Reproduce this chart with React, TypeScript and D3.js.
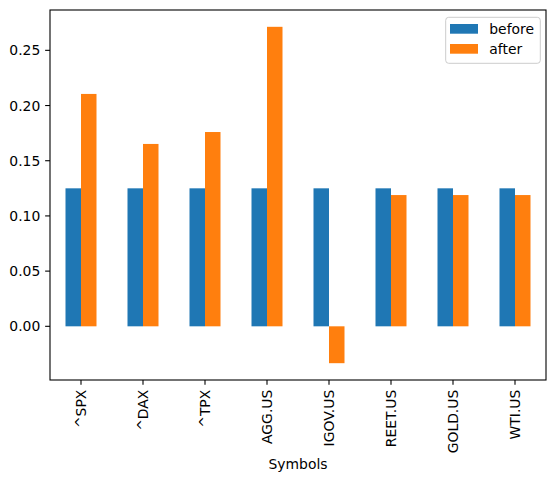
import React from "react";
import * as d3 from "d3";

const symbols = ["^SPX", "^DAX", "^TPX", "AGG.US", "IGOV.US", "REET.US", "GOLD.US", "WTI.US"];
const before = [0.125, 0.125, 0.125, 0.125, 0.125, 0.125, 0.125, 0.125];
const after = [0.2105, 0.1652, 0.176, 0.2713, -0.0334, 0.1189, 0.1189, 0.1189];
const yTicks = [0.0, 0.05, 0.1, 0.15, 0.2, 0.25];
const seriesNames = ["before", "after"];
const colors = ["#1f77b4", "#ff7f0e"];

export default function App() {
  const W = 556, H = 482;
  const left = 50, right = 546, top = 10, bottom = 380;
  const x = d3.scaleLinear().domain([-0.5, symbols.length - 0.5]).range([left, right]);
  const all = [...before, ...after, 0];
  const mn = d3.min(all)!, mx = d3.max(all)!;
  const pad = (mx - mn) * 0.05;
  const y = d3.scaleLinear().domain([mn - pad, mx + pad]).range([bottom, top]);
  const bw = 0.25;
  const font = "DejaVu Sans, sans-serif";
  const fs = 13.9;
  const tickLen = 4.86;
  const series = [before, after];
  const textColor = "#000";

  return (
    <svg width={W} height={H} style={{ position: "absolute", left: 0, top: 0, background: "#fff" }}>
      <rect x={0} y={0} width={W} height={H} fill="#fff" />
      {series.map((vals, s) =>
        vals.map((v, i) => {
          const x0 = x(i - bw + s * bw);
          const x1 = x(i + s * bw);
          const y0 = y(Math.max(v, 0));
          const y1 = y(Math.min(v, 0));
          return <rect key={`${s}-${i}`} x={x0} y={y0} width={x1 - x0} height={y1 - y0} fill={colors[s]} />;
        })
      )}
      <rect x={left} y={top} width={right - left} height={bottom - top} fill="none" stroke="#000" strokeWidth={1.1} />
      {yTicks.map((t) => (
        <g key={t}>
          <line x1={left - tickLen} x2={left} y1={y(t)} y2={y(t)} stroke="#000" strokeWidth={1.1} />
          <text x={left - tickLen - 4.86} y={y(t)} textAnchor="end" dominantBaseline="central" fontFamily={font} fontSize={fs} fill={textColor}>
            {t.toFixed(2)}
          </text>
        </g>
      ))}
      {symbols.map((s, i) => (
        <g key={s}>
          <line x1={x(i)} x2={x(i)} y1={bottom} y2={bottom + tickLen} stroke="#000" strokeWidth={1.1} />
          <text
            transform={`translate(${x(i)},${bottom + tickLen + 4.86}) rotate(-90)`}
            textAnchor="end"
            dominantBaseline="central"
            fontFamily={font}
            fontSize={fs}
            fill={textColor}
          >
            {s}
          </text>
        </g>
      ))}
      <text x={(left + right) / 2} y={469} textAnchor="middle" fontFamily={font} fontSize={fs} fill={textColor}>
        Symbols
      </text>
      <g>
        <rect x={445.7} y={17.3} width={94.6} height={46} rx={3} ry={3} fill="#fff" fillOpacity={0.8} stroke="#cccccc" strokeWidth={1} />
        {seriesNames.map((n, k) => (
          <g key={n}>
            <rect x={450} y={24 + k * 20} width={28} height={9.7} fill={colors[k]} />
            <text x={489.3} y={28.8 + k * 20} dominantBaseline="central" fontFamily={font} fontSize={fs} fill={textColor}>
              {n}
            </text>
          </g>
        ))}
      </g>
    </svg>
  );
}
